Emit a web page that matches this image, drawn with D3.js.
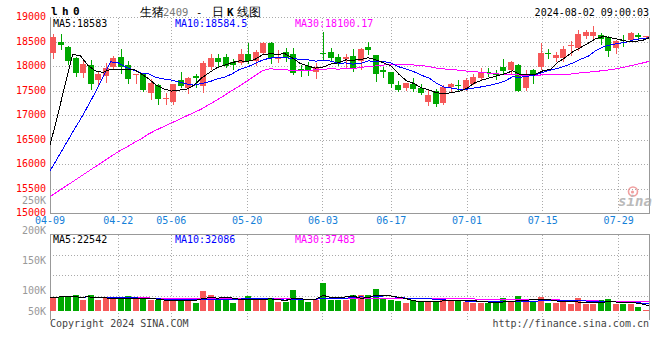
<!DOCTYPE html>
<html><head><meta charset="utf-8">
<script src="https://cdn.jsdelivr.net/npm/d3@7/dist/d3.min.js"></script>
<style>
html,body{margin:0;padding:0;background:#fff;}
svg{display:block;}
text{font-family:"DejaVu Sans Mono",monospace;}
</style></head><body>
<svg id="c" width="660" height="360"></svg>
<script>
// ---------------- data ----------------
const dates = ["04-09","04-10","04-11","04-12","04-15","04-16","04-17","04-18","04-19",
"04-22","04-23","04-24","04-25","04-26","04-29","04-30",
"05-06","05-07","05-08","05-09","05-10","05-13","05-14","05-15","05-16","05-17",
"05-20","05-21","05-22","05-23","05-24","05-27","05-28","05-29","05-30","05-31",
"06-03","06-04","06-05","06-06","06-07","06-11","06-12","06-13","06-14",
"06-17","06-18","06-19","06-20","06-21","06-24","06-25","06-26","06-27","06-28",
"07-01","07-02","07-03","07-04","07-05","07-08","07-09","07-10","07-11","07-12",
"07-15","07-16","07-17","07-18","07-19","07-22","07-23","07-24","07-25","07-26",
"07-29","07-30","07-31","08-01","08-02"];
const openP  = [18282,18506,18404,18165,17873,18022,17716,17806,17990,18194,18022,17818,17839,17451,17622,17340,17282,17716,17567,17798,17602,17990,18180,18200,18092,18078,18261,18112,18282,18486,18145,18302,18247,17941,18010,17888,18282,18302,18200,18145,18214,18112,18398,18227,17920,17894,17622,17567,17635,17553,17282,17500,17261,17582,17622,17547,17649,17771,17888,17853,18000,17920,18022,17567,17920,17996,18282,18180,18180,18410,18378,18629,18629,18649,18602,18378,18533,18533,18649,18602];
const highP  = [18655,18655,18418,18194,18133,18133,17908,18078,18206,18349,18112,17853,17873,17737,17649,17465,17649,17894,17786,17839,18112,18261,18261,18247,18145,18349,18486,18329,18500,18500,18329,18384,18384,18031,18092,18078,18710,18384,18261,18247,18349,18384,18506,18227,17990,17894,17704,17669,17771,17635,17512,17533,17622,17669,17716,17771,17839,17976,17976,17935,18145,18112,18043,17920,17941,18486,18349,18302,18418,18512,18737,18751,18818,18682,18614,18547,18649,18696,18682,18614];
const lowP   = [18165,18353,18043,17806,17786,17533,17622,17690,17961,17873,17669,17669,17500,17329,17241,17227,17227,17582,17465,17582,17486,17941,18010,17990,17941,18057,18078,18031,18261,18078,18098,18112,17839,17806,17818,17757,18130,18112,18031,17990,17908,17941,18261,17704,17786,17582,17500,17512,17500,17431,17214,17194,17241,17486,17512,17512,17635,17716,17806,17737,17873,17853,17500,17512,17669,17941,18165,18112,18112,18241,18343,18582,18582,18465,18220,18276,18410,18512,18547,18602];
const closeP = [18608,18439,18112,17873,18057,17649,17853,17976,18180,17990,17737,17853,17512,17669,17329,17350,17635,17602,17757,17757,18078,18180,18098,18010,18031,18261,18112,18302,18471,18165,18200,18165,17859,17920,17908,17990,18261,18165,18057,18194,17961,18349,18329,17839,17894,17635,17527,17655,17547,17465,17410,17241,17582,17635,17602,17716,17792,17873,17859,17827,17908,18092,17500,17853,17839,18267,18247,18235,18349,18445,18669,18696,18696,18561,18308,18512,18512,18684,18602,18614];
const volumes = [56700,56700,60750,63450,43200,63450,45900,56700,47250,47250,59400,47250,51300,43200,43200,39150,39150,51300,43200,33750,79650,63450,43200,47250,32400,51300,59400,43200,43200,51300,36450,36450,83700,43200,35100,43200,113400,43200,43200,43200,63450,63450,63450,87750,47250,43200,39150,33750,43200,36450,39150,39150,51300,43200,43200,36450,33750,33750,33750,33750,51300,39150,59400,39150,39150,56700,32400,32400,36450,28350,51300,28350,28350,43200,47250,27000,27000,27000,18000,6000];
// moving-average values before enough candles exist
const ma5Lead  = [16397,16990,17644,18247];
const ma10Lead = [15871,16131,16397,16663,16918,17194,17480,17783,18094];
const ma30Lead = [15340,15446,15548,15650,15753,15855,15957,16059,16162,16260,16346,16438,16519,16622,16703,16775,16847,16918,16990,17061,17133,17225,17317,17409,17511,17603,17706,17808,17910];
const priceTicks = [19000,18500,18000,17500,17000,16500,16000,15500,15000];
const volTicks = [250000,200000,150000,100000,50000];
const volTickLabels = ["250K","200K","150K","100K","50K"];
const dateTicks = ["04-09","04-22","05-06","05-20","06-03","06-17","07-01","07-15","07-29"];
const priceLegend = [["MA5:","18583"],["MA10:","18584.5"],["MA30:","18100.17"]];
const volLegend = [["MA5:","22542"],["MA10:","32086"],["MA30:","37483"]];

// ---------------- layout ----------------
const RED="#f65858", GREEN="#00a800", GRID="#aaaaaa", FRAME="#999999";
const maColors=["#000000","#0000ff","#ff00ff"];
const L=50, R=649, pTop=17.5, pBot=213.5, vTop=234.5, vBase=311, vBot=320;
const svg=d3.select("#c");
const xBand=d3.scaleBand().domain(dates).range([L,650]).paddingInner(0.2).paddingOuter(0.1);
const xPt=d3.scalePoint().domain(dates).range([L,R]);
const y=d3.scaleLinear().domain([15000,19000]).range([pBot,pTop]);
const yv=d3.scaleLinear().domain([0,310000]).range([vBase,vTop+0.4]);
const yvLabel=d3.scaleLinear().domain([50000,250000]).range([320,200]);
const px=v=>Math.floor(v)+0.5;

function movingAvg(vals,w,lead){
  return vals.map((v,i)=> i<w-1 ? (lead?lead[i]:d3.mean(vals.slice(0,i+1))) : d3.mean(vals.slice(i-w+1,i+1)));
}
const ma5=movingAvg(closeP,5,ma5Lead), ma10=movingAvg(closeP,10,ma10Lead), ma30=movingAvg(closeP,30,ma30Lead);
const vma5=movingAvg(volumes,5), vma10=movingAvg(volumes,10), vma30=movingAvg(volumes,30);

const g=svg.append("g").attr("shape-rendering","crispEdges");
// grid (price)
priceTicks.slice(0,-1).forEach(d=>{
  g.append("line").attr("x1",L).attr("x2",R).attr("y1",px(y(d))).attr("y2",px(y(d)))
   .attr("stroke",GRID).attr("stroke-dasharray","1,2");
});
dateTicks.slice(1).forEach(d=>{
  g.append("line").attr("x1",px(xPt(d))).attr("x2",px(xPt(d))).attr("y1",pTop).attr("y2",pBot)
   .attr("stroke",GRID).attr("stroke-dasharray","1,2");
  g.append("line").attr("x1",px(xPt(d))).attr("x2",px(xPt(d))).attr("y1",vTop).attr("y2",vBot)
   .attr("stroke",GRID).attr("stroke-dasharray","1,2");
});
// grid (volume)
[1,2,3].forEach(k=>{
  const yy=px(vTop+k*20.5);
  g.append("line").attr("x1",L).attr("x2",R).attr("y1",yy).attr("y2",yy).attr("stroke",GRID).attr("stroke-dasharray","1,2");
});
// frames
g.append("path").attr("d",`M${L+0.5},${pTop}V${pBot}H${R+0.5}V${pTop}`).attr("fill","none").attr("stroke",FRAME);
g.append("path").attr("d",`M${L+0.5},${vBot}V${vTop}H${R+0.5}V${vBot}`).attr("fill","none").attr("stroke",FRAME);

// watermark
const wm=svg.append("g").attr("opacity",0.8);
wm.append("circle").attr("cx",633).attr("cy",191.5).attr("r",4.5).attr("fill","none").attr("stroke","#ee8888").attr("stroke-width",1.6);
wm.append("circle").attr("cx",632.5).attr("cy",192).attr("r",1.6).attr("fill","#ee8888");
wm.append("text").attr("x",618).attr("y",206).attr("font-family","DejaVu Sans").attr("font-style","italic").attr("font-weight","bold").attr("font-size",14).attr("fill","#aaaaaa").attr("textLength",34).text("sina");

// candles + volume bars
const cg=g.append("g");
dates.forEach((d,i)=>{
  const o=openP[i],c=closeP[i],h=highP[i],l=lowP[i];
  const col=c>=o?RED:GREEN;
  const cx=px(xBand(d)+xBand.bandwidth()/2);
  cg.append("line").attr("x1",cx).attr("x2",cx).attr("y1",Math.round(y(h))).attr("y2",Math.round(y(l))+1).attr("stroke",col);
  const top=Math.round(y(Math.max(o,c))), bot=Math.round(y(Math.min(o,c)));
  cg.append("rect").attr("x",cx-3.5).attr("width",6).attr("y",top).attr("height",Math.max(1,bot-top)).attr("fill",col);
  const vy=Math.round(yv(volumes[i]));
  cg.append("rect").attr("x",cx-3.5).attr("width",6).attr("y",vy).attr("height",Math.max(1,vBase-vy)).attr("fill",col);
});

// MA lines
const lineP=d3.line().x((d,i)=>xPt(dates[i])).y(d=>y(d));
const lineV=d3.line().x((d,i)=>xPt(dates[i])).y(d=>yv(d));
[[ma30,2],[ma10,1],[ma5,0]].forEach(([arr,k])=>{
  svg.append("path").attr("d",lineP(arr)).attr("fill","none").attr("stroke",maColors[k]).attr("stroke-width",1).attr("shape-rendering","crispEdges");
});
[[vma30,2],[vma10,1],[vma5,0]].forEach(([arr,k])=>{
  svg.append("path").attr("d",lineV(arr)).attr("fill","none").attr("stroke",maColors[k]).attr("stroke-width",1).attr("shape-rendering","crispEdges");
});

// axis labels
priceTicks.forEach(d=>{
  svg.append("text").attr("x",46).attr("y",px(y(d))+2.5).attr("text-anchor","end").attr("font-size",10).attr("fill","#ff0000").text(d);
});
volTicks.forEach((d,i)=>{
  svg.append("text").attr("x",46).attr("y",Math.min(yvLabel(d),311)+3.5).attr("text-anchor","end").attr("font-size",10).attr("fill","#999999").text(volTickLabels[i]);
});
dateTicks.forEach(d=>{
  svg.append("text").attr("x",xPt(d)).attr("y",224).attr("text-anchor","middle").attr("font-size",10).attr("fill","#1480d8").text(d);
});

// legends
const legX=[53,175,295];
function legend(items,yy){
  items.forEach((it,k)=>{
    svg.append("text").attr("x",legX[k]).attr("y",yy).attr("font-size",10).attr("fill",maColors[k]).text(it[0]+it[1]);
  });
}
legend(priceLegend,26.5);
legend(volLegend,242.5);

// header
svg.append("text").attr("x",51).attr("y",15).attr("font-size",11).attr("font-weight","bold").attr("letter-spacing",4.4).attr("fill","#000").text("lh0");
const cjk='"Noto Sans CJK SC",sans-serif';
svg.append("text").attr("x",140).attr("y",15.5).attr("font-family",cjk).attr("font-size",12).attr("fill","#000").text("生猪");
svg.append("text").attr("x",163).attr("y",15.5).attr("font-size",10.5).attr("fill","#777").text("2409");
svg.append("text").attr("x",196).attr("y",15.5).attr("font-size",10.5).attr("fill","#000").text("-");
svg.append("text").attr("x",212).attr("y",15.5).attr("font-family",cjk).attr("font-size",12).attr("fill","#000").text("日");
svg.append("text").attr("x",227).attr("y",15.5).attr("font-family","DejaVu Sans").attr("font-weight","bold").attr("font-size",11).attr("fill","#000").text("K");
svg.append("text").attr("x",237).attr("y",15.5).attr("font-family",cjk).attr("font-size",12).attr("fill","#000").text("线图");
svg.append("text").attr("x",649).attr("y",16).attr("text-anchor","end").attr("font-size",10).attr("fill","#000").text("2024-08-02 09:00:03");

// footer
svg.append("text").attr("x",50).attr("y",326.5).attr("font-size",10).attr("fill","#444").text("Copyright 2024 SINA.COM");
svg.append("text").attr("x",649).attr("y",326.5).attr("text-anchor","end").attr("font-size",10).attr("fill","#444").text("http://finance.sina.com.cn");
</script>
</body></html>
